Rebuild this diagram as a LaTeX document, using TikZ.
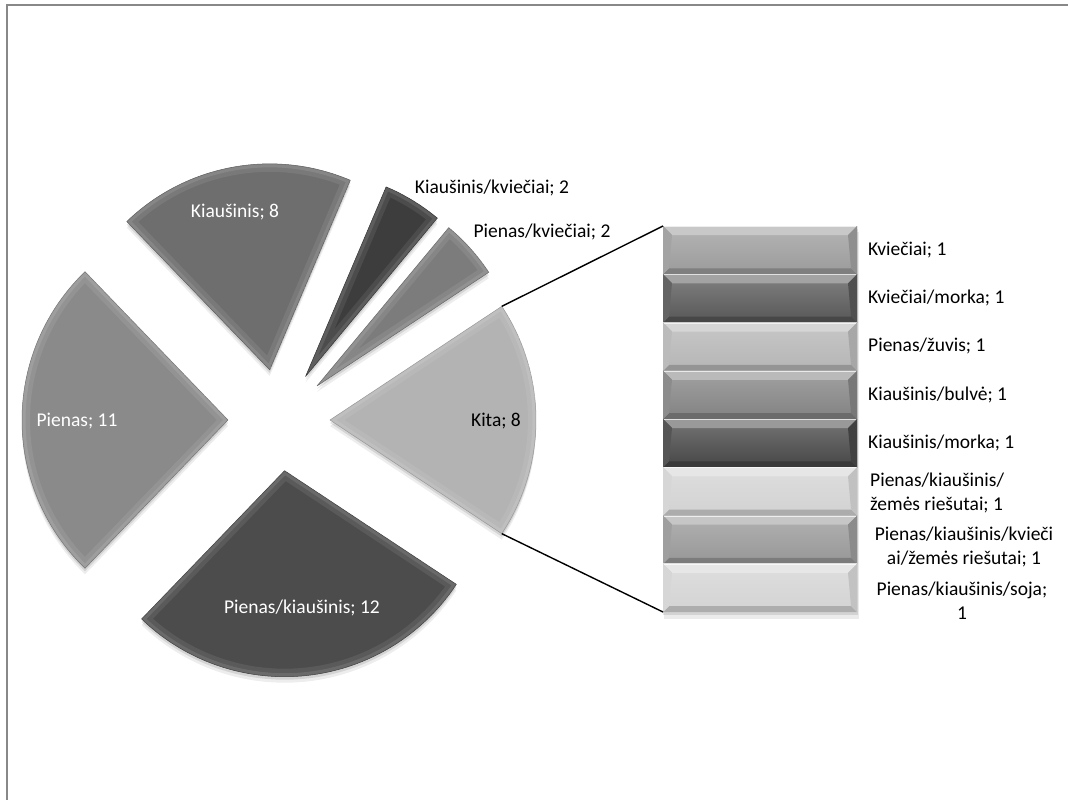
\documentclass[tikz,border=0pt]{standalone}
\usepackage{fontspec}
\setmainfont{Carlito}
\usetikzlibrary{calc}
\definecolor{cKiaus}{HTML}{6E6E6E}
\definecolor{cKkv}{HTML}{3D3D3D}
\definecolor{cPkv}{HTML}{7C7C7C}
\definecolor{cKita}{HTML}{B3B3B3}
\definecolor{cPk}{HTML}{4C4C4C}
\definecolor{cPien}{HTML}{8A8A8A}
\definecolor{bA}{HTML}{9B9B9B}
\definecolor{bB}{HTML}{575757}
\definecolor{bC}{HTML}{B5B5B5}
\definecolor{bD}{HTML}{828282}
\definecolor{bE}{HTML}{464646}
\definecolor{bF}{HTML}{D2D2D2}
\definecolor{bG}{HTML}{979797}
\definecolor{bH}{HTML}{D3D3D3}
\definecolor{frame}{HTML}{888888}
\newcommand\pieslice[4]{%
  \pgfmathsetmacro\sA{-(#1)}%
  \pgfmathsetmacro\sB{-(#2)}%
  \pgfmathsetmacro\sM{-((#1)+(#2))/2}%
  \coordinate (#4) at ($(279,420)+(\sM:51)$);
  \coordinate (#4a) at ($(#4)+(\sA:206)$);
  \coordinate (#4b) at ($(#4)+(\sB:206)$);
  \fill[black, opacity=0.07] ($(#4)+(0,6)$) -- ++(\sA:206) arc[start angle=\sA, end angle=\sB, radius=206] -- cycle;
  \fill[black, opacity=0.10] ($(#4)+(0,3)$) -- ++(\sA:206) arc[start angle=\sA, end angle=\sB, radius=206] -- cycle;
  \begin{scope}
    \clip (#4) -- (#4a) arc[start angle=\sA, end angle=\sB, radius=206] -- cycle;
    \fill[#3] (#4) -- (#4a) arc[start angle=\sA, end angle=\sB, radius=206] -- cycle;
    \draw[white, opacity=0.08, line width=16] (#4) -- (#4a) arc[start angle=\sA, end angle=\sB, radius=206] -- cycle;
    \draw[white, opacity=0.10, line width=7] (#4) -- (#4a) arc[start angle=\sA, end angle=\sB, radius=206] -- cycle;
  \end{scope}
  \draw[#3!85!black, line width=0.5, line join=round] (#4) -- (#4a) arc[start angle=\sA, end angle=\sB, radius=206] -- cycle;
}
\newcommand\barseg[2]{%
  \pgfmathsetmacro\yt{226+#1*48.25}%
  \pgfmathsetmacro\yb{\yt+48.25}%
  \pgfmathsetmacro\ytt{\yt+9}%
  \pgfmathsetmacro\ybb{\yb-6}%
  \shade[top color=#2!75!white, bottom color=#2] (663,\yt) rectangle (857,\yb);
  \fill[#2!55!white] (663,\yt) -- (857,\yt) -- (848,\ytt) -- (672,\ytt) -- cycle;
  \fill[#2!82!black] (663,\yb) -- (857,\yb) -- (851,\ybb) -- (669,\ybb) -- cycle;
  \fill[#2!92!white] (663,\yt) -- (672,\ytt) -- (669,\ybb) -- (663,\yb) -- cycle;
  \fill[#2!92!black] (857,\yt) -- (848,\ytt) -- (851,\ybb) -- (857,\yb) -- cycle;
  \draw[white, opacity=0.7, line width=1] (664,\yt+0.7) -- (856,\yt+0.7);
}
\begin{document}
\begin{tikzpicture}[x=1pt,y=-1pt,
  lbl/.style={font=\fontsize{19.5}{24}\selectfont, inner sep=0pt, text=black},
  wlbl/.style={lbl, text=white},
  conn/.style={draw=black, line width=1.4pt}]
\useasboundingbox (0,0) rectangle (1068,800);
\fill[white] (0,0) rectangle (1068,800);
\draw[frame, line width=1.6] (6.8,802) -- (6.8,5.3) -- (1070,5.3);
% pie of pie
\pieslice{-33.488}{33.488}{cKita}{kita}
\pieslice{33.488}{50.233}{cPkv}{pkv}
\pieslice{50.233}{66.977}{cKkv}{kkv}
\pieslice{66.977}{133.953}{cKiaus}{kiaus}
\pieslice{133.953}{226.047}{cPien}{pien}
\pieslice{226.047}{326.512}{cPk}{pk}
% secondary bar
\fill[black, opacity=0.08] (664,232) rectangle (859,619);
\fill[black, opacity=0.10] (663,229) rectangle (858,615);
\barseg{0}{bA}
\barseg{1}{bB}
\barseg{2}{bC}
\barseg{3}{bD}
\barseg{4}{bE}
\barseg{5}{bF}
\barseg{6}{bG}
\barseg{7}{bH}
\coordinate (barTL) at (663,226);
\coordinate (barBL) at (663,612);
\draw[conn] (kitab) -- (barTL);
\draw[conn] (kitaa) -- (barBL);
% pie labels
\node[wlbl] (lKiaus) at (235,212) {Kiaušinis; 8};
\node[lbl] (lKkv) at (492,188) {Kiaušinis/kviečiai; 2};
\node[lbl] (lPkv) at (542,232) {Pienas/kviečiai; 2};
\node[lbl] (lKita) at (496,421) {Kita; 8};
\node[wlbl] (lPien) at (77,421) {Pienas; 11};
\node[wlbl] (lPk) at (302,608) {Pienas/kiaušinis; 12};
% bar labels
\node[lbl, anchor=west] (b1) at (868,250) {Kviečiai; 1};
\node[lbl, anchor=west] (b2) at (868,298) {Kviečiai/morka; 1};
\node[lbl, anchor=west] (b3) at (868,346) {Pienas/žuvis; 1};
\node[lbl, anchor=west] (b4) at (868,395) {Kiaušinis/bulvė; 1};
\node[lbl, anchor=west] (b5) at (868,443) {Kiaušinis/morka; 1};
\node[lbl, anchor=west, align=left] (b6) at (870,493) {Pienas/kiaušinis/\\žemės riešutai; 1};
\node[lbl, align=center] (b7) at (964,547) {Pienas/kiaušinis/kvieči\\ai/žemės riešutai; 1};
\node[lbl, align=center] (b8) at (962,601) {Pienas/kiaušinis/soja;\\1};
\end{tikzpicture}
\end{document}
